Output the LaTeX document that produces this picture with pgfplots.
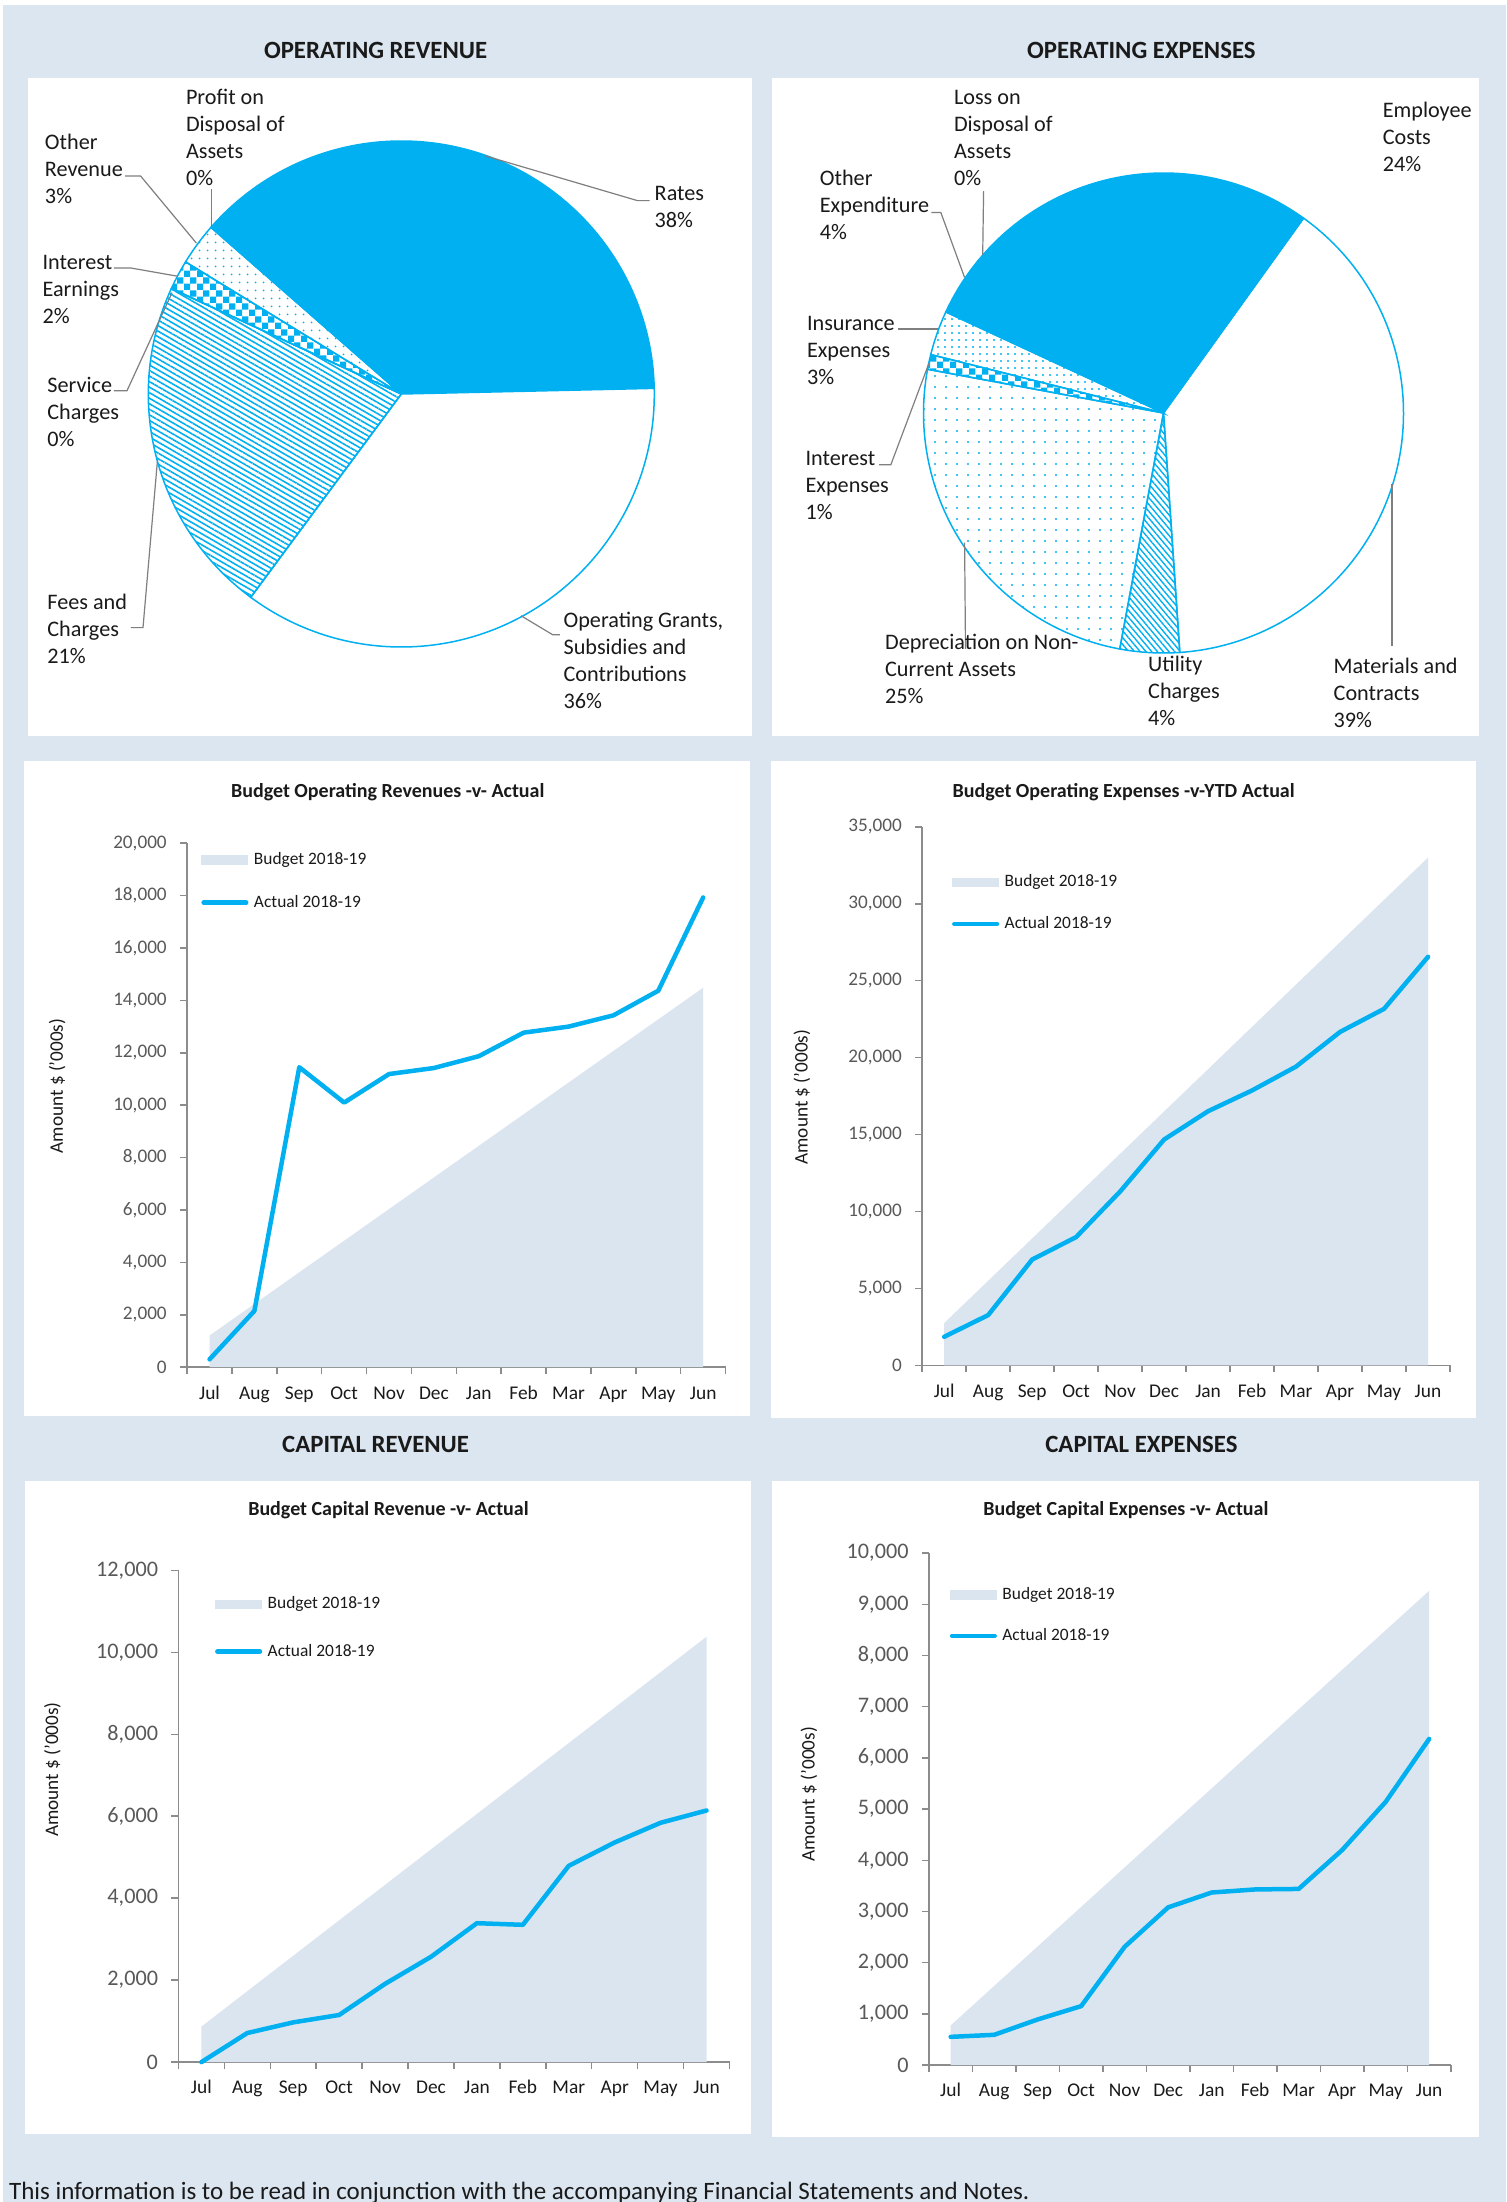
\documentclass[border=0pt]{standalone}
\usepackage{fontspec}
\setmainfont{Carlito}
\usepackage{pgfplots}
\usepackage{pgfplotstable}
\pgfplotsset{compat=1.18}
\usetikzlibrary{patterns.meta}

\definecolor{bgc}{HTML}{DCE6F1}
\definecolor{budg}{HTML}{DBE5F0}
\definecolor{xblue}{HTML}{00B0F0}
\definecolor{axgray}{HTML}{8C8C8C}
\definecolor{lead}{HTML}{7F7F7F}
\definecolor{tickc}{HTML}{595959}
\definecolor{txt}{HTML}{1A1A1A}

\pgfdeclarepatternformonly{checker}{\pgfqpoint{0pt}{0pt}}{\pgfqpoint{6.6pt}{6.6pt}}{\pgfqpoint{6.6pt}{6.6pt}}{%
  \pgfpathrectangle{\pgfqpoint{0pt}{0pt}}{\pgfqpoint{3.3pt}{3.3pt}}%
  \pgfpathrectangle{\pgfqpoint{3.3pt}{3.3pt}}{\pgfqpoint{3.3pt}{3.3pt}}%
  \pgfusepath{fill}}

% #1 start angle, #2 cumulative percent, #3 percent, #4 radius, #5 style
\newcommand\pieslice[5]{%
  \pgfmathsetmacro\psa{#1-3.6*(#2)}%
  \pgfmathsetmacro\pea{#1-3.6*(#2+#3)}%
  \edef\pietmp{\noexpand\filldraw[line width=0.75pt,\unexpanded{#5}] (axis cs:0,0) -- (axis cs:{cos(\psa)},{sin(\psa)})
     arc[start angle=\psa, end angle=\pea, radius=#4] -- cycle;}%
  \pietmp}

\pgfplotstableread{
m b a
0 1207 300
1 2414 2150
2 3621 11450
3 4828 10100
4 6035 11190
5 7242 11420
6 8449 11870
7 9656 12770
8 10863 13000
9 12070 13430
10 13277 14370
11 14484 17930
}\opr
\pgfplotstableread{
m b a
0 2750 1860
1 5500 3270
2 8250 6880
3 11000 8340
4 13750 11300
5 16500 14680
6 19250 16520
7 22000 17870
8 24750 19420
9 27500 21670
10 30250 23170
11 33000 26550
}\opx
\pgfplotstableread{
m b a
0 865 0
1 1730 710
2 2595 970
3 3460 1150
4 4325 1910
5 5190 2570
6 6055 3390
7 6920 3350
8 7785 4790
9 8650 5360
10 9515 5840
11 10380 6140
}\cpr
\pgfplotstableread{
m b a
0 772 550
1 1544 590
2 2316 890
3 3088 1150
4 3860 2310
5 4632 3080
6 5404 3370
7 6176 3430
8 6948 3440
9 7720 4200
10 8492 5140
11 9264 6370
}\cpx

\pgfplotsset{
  pie/.style={hide axis, clip=false, anchor=center, xmin=-1, xmax=1, ymin=-1, ymax=1},
  lc/.style={
    scale only axis, anchor=south west, clip=false,
    xmin=-0.5, xmax=11.5, ymin=0,
    axis x line*=bottom, axis y line*=left,
    axis line style={draw=axgray, line width=0.75pt},
    xtick={0,...,11},
    xticklabels={Jul,Aug,Sep,Oct,Nov,Dec,Jan,Feb,Mar,Apr,May,Jun},
    minor xtick={-0.5,0.5,...,11.5},
    major x tick style={draw=none},
    minor x tick style={draw=axgray, line width=0.75pt},
    ytick style={draw=axgray, line width=0.75pt},
    tick align=outside,
    major tick length=3.5pt, minor tick length=3.5pt,
    scaled y ticks=false,
    /pgf/number format/assume math mode=true,
    yticklabel style={/pgf/number format/fixed, /pgf/number format/1000 sep={,}, anchor=east, inner sep=0pt, xshift=-6.5pt, text=tickc},
    xticklabel style={anchor=base, yshift=-12.4pt, text=txt, font=\fontsize{9.7}{11}\selectfont},
    ylabel={Amount \$ ('000s)},
    ylabel style={anchor=center, font=\fontsize{9.6}{11}\selectfont, text=txt},
    legend cell align=left,
    legend style={draw=none, fill=none, inner sep=0pt, anchor=west,
      font=\fontsize{8.7}{10}\selectfont,
      nodes={inner sep=0pt, text height=6.5pt, text depth=2pt, text=txt},
      /tikz/every odd column/.append style={column sep=2.75pt}},
  },
  budgetarea/.style={fill=budg, draw=none,
    legend image code/.code={\fill[budg] (0pt,-2.4pt) rectangle (23.5pt,2.4pt);}},
  actualline/.style={draw=xblue, line width=2.25pt, line join=round, line cap=round, mark=none,
    legend image code/.code={\draw[xblue, line width=2.25pt, line cap=round] (1.1pt,0pt) -- (22.4pt,0pt);}},
}

\tikzset{
  plabel/.style={anchor=west, align=left, inner sep=0pt, font=\fontsize{11.1}{13.5}\selectfont, text=txt},
  ctitle/.style={inner sep=0pt, font=\bfseries\fontsize{10}{11}\selectfont, text=txt},
  shead/.style={inner sep=0pt, font=\bfseries\fontsize{12.4}{14}\selectfont, text=txt},
  ld/.style={draw=lead, line width=0.6pt},
}

\begin{document}
\begin{tikzpicture}[x=0.5pt, y=-0.5pt]
\useasboundingbox (0,0) rectangle (1506,2202);
\fill[white] (0,0) rectangle (1506,2202);
\fill[bgc] (3,5) rectangle (1506,2202);
% white panels
\fill[white] (27.6,77.9) rectangle (752,736.2);
\fill[white] (771.9,77.9) rectangle (1478.5,736.2);
\fill[white] (24.2,760.8) rectangle (750,1415.7);
\fill[white] (770.5,760.8) rectangle (1476,1417.9);
\fill[white] (25.2,1480.7) rectangle (751.3,2134);
\fill[white] (771.9,1480.7) rectangle (1478.5,2136.5);

% anchor points for the axes
\coordinate (P1) at (401.3,394);
\coordinate (P2) at (1163.5,413);
\coordinate (A1) at (187.1,1367.2);
\coordinate (A2) at (922.2,1365.4);
\coordinate (A3) at (178.4,2062.1);
\coordinate (A4) at (928.9,2065);

% section headers
\node[shead] at (375.6,50.5) {OPERATING REVENUE};
\node[shead] at (1141.4,50.5) {OPERATING EXPENSES};
\node[shead] at (375.6,1444.8) {CAPITAL REVENUE};
\node[shead] at (1141.4,1444.8) {CAPITAL EXPENSES};

% ---------- Operating revenue pie (percent shares) ----------
\begin{axis}[pie, at={(P1)}, x=126.5pt, y=126.5pt]
\pieslice{138.8}{0}{38.2}{126.5pt}{fill=xblue, draw=xblue}   % Rates
\pieslice{138.8}{38.2}{35.5}{126.5pt}{fill=white, draw=xblue}  % Operating grants
\pieslice{138.8}{73.7}{21.7}{126.5pt}{pattern={Lines[angle=-30,distance=2.4pt,line width=0.8pt]}, pattern color=xblue, draw=xblue} % Fees
\pieslice{138.8}{95.4}{0}{126.5pt}{fill=white, draw=xblue}   % Service charges
\pieslice{138.8}{95.4}{1.9}{126.5pt}{pattern=checker, pattern color=xblue, draw=xblue} % Interest
\pieslice{138.8}{97.3}{2.7}{126.5pt}{pattern={Dots[distance=4pt,radius=0.55pt]}, pattern color=xblue, draw=xblue} % Other
\end{axis}
\draw[ld] (649.5,200.6) -- (637.4,200.6) -- (484.7,155.7);
\draw[ld] (559.8,634.7) -- (552.6,634.7) -- (521.1,615.8);
\draw[ld] (130.9,627.6) -- (143,627.6) -- (157.5,460.1);
\draw[ld] (113.9,390.7) -- (127,390.7) -- (172.1,292.6);
\draw[ld] (113.9,268) -- (130.9,268) -- (176.9,276.1);
\draw[ld] (125,176) -- (140.6,176) -- (196.3,243);
\draw[ld] (211.8,188.8) -- (211.8,228.9);
\node[plabel] at (185.6,137.55) {Profit on\\Disposal of\\Assets\\0\%};
\node[plabel] at (44.6,168.7) {Other\\Revenue\\3\%};
\node[plabel] at (42.2,289.95) {Interest\\Earnings\\2\%};
\node[plabel] at (47,411.75) {Service\\Charges\\0\%};
\node[plabel] at (47,628.85) {Fees and\\Charges\\21\%};
\node[plabel] at (654.3,207.15) {Rates\\38\%};
\node[plabel] at (563.2,659.95) {Operating Grants,\\Subsidies and\\Contributions\\36\%};

% ---------- Operating expenses pie (percent shares) ----------
\begin{axis}[pie, at={(P2)}, x=120pt, y=120pt]
\pieslice{54.3}{0}{39}{120pt}{fill=white, draw=xblue}  % Materials
\pieslice{54.3}{39}{4}{120pt}{pattern={Lines[angle=-50,distance=2.2pt,line width=0.7pt]}, pattern color=xblue, draw=xblue} % Utility
\pieslice{54.3}{43}{25}{120pt}{pattern={Dots[distance=5.5pt,radius=0.6pt]}, pattern color=xblue, draw=xblue} % Depreciation
\pieslice{54.3}{68}{1}{120pt}{pattern=checker, pattern color=xblue, draw=xblue} % Interest
\pieslice{54.3}{69}{3}{120pt}{pattern={Dots[distance=3.5pt,radius=0.55pt]}, pattern color=xblue, draw=xblue} % Insurance
\pieslice{54.3}{72}{4}{120pt}{fill=xblue, draw=xblue}  % Other
\pieslice{54.3}{76}{0}{120pt}{fill=xblue, draw=xblue}  % Loss
\pieslice{54.3}{76}{24}{120pt}{fill=xblue, draw=xblue} % Employee
\end{axis}
\draw[ld] (983.6,191.1) -- (982.7,254.8);
\draw[ld] (931.3,212.4) -- (940.8,212.4) -- (964.6,277.5);
\draw[ld] (898,328.9) -- (938.4,328.9);
\draw[ld] (879,464.8) -- (890.8,464.8) -- (928.9,363.4);
\draw[ld] (965.5,648.9) -- (964.6,542.7);
\draw[ld] (1391.9,645.6) -- (1391.9,483.7);
\node[plabel] at (953.6,137.55) {Loss on\\Disposal of\\Assets\\0\%};
\node[plabel] at (1382.4,136.6) {Employee\\Costs\\24\%};
\node[plabel] at (819.5,205.05) {Other\\Expenditure\\4\%};
\node[plabel] at (806.6,350.4) {Insurance\\Expenses\\3\%};
\node[plabel] at (805.2,485.1) {Interest\\Expenses\\1\%};
\node[plabel] at (884.7,669.35) {Depreciation on Non-\\Current Assets\\25\%};
\node[plabel] at (1147.8,690.65) {Utility\\Charges\\4\%};
\node[plabel] at (1333.3,692.5) {Materials and\\Contracts\\39\%};

% ---------- Chart titles ----------
\node[ctitle] at (387.8,792) {Budget Operating Revenues -v- Actual};
\node[ctitle] at (1123.7,792) {Budget Operating Expenses -v-YTD Actual};
\node[ctitle] at (388.5,1510.2) {Budget Capital Revenue -v- Actual};
\node[ctitle] at (1125.9,1510.2) {Budget Capital Expenses -v- Actual};

% ---------- Operating revenues ----------
\begin{axis}[lc, at={(A1)}, width=269.25pt, height=262pt,
  ymax=20000, ytick={0,2000,...,20000},
  yticklabel style={font=\fontsize{9.6}{11}\selectfont},
  ylabel style={at={(axis description cs:-0.2414,0.5366)}},
  legend style={at={(axis description cs:0.0258,0.9275)}, row sep=13pt}]
\addplot[budgetarea] table[x=m, y=b] {\opr} \closedcycle;
\addlegendentry{Budget 2018-19}
\addplot[actualline] table[x=m, y=a] {\opr};
\addlegendentry{Actual 2018-19}
\end{axis}

% ---------- Operating expenses ----------
\begin{axis}[lc, at={(A2)}, width=263.9pt, height=269.3pt,
  ymax=35000, ytick={0,5000,...,35000},
  yticklabel style={font=\fontsize{9.6}{11}\selectfont},
  ylabel style={at={(axis description cs:-0.2279,0.498)}},
  legend style={at={(axis description cs:0.0559,0.8583)}, row sep=12.3pt}]
\addplot[budgetarea] table[x=m, y=b] {\opx} \closedcycle;
\addlegendentry{Budget 2018-19}
\addplot[actualline] table[x=m, y=a] {\opx};
\addlegendentry{Actual 2018-19}
\end{axis}

% ---------- Capital revenue ----------
\begin{axis}[lc, at={(A3)}, width=275.55pt, height=245.9pt,
  ymax=12000, ytick={0,2000,...,12000},
  yticklabel style={font=\fontsize{11.1}{13}\selectfont},
  ylabel style={at={(axis description cs:-0.2286,0.5946)}},
  legend style={at={(axis description cs:0.0659,0.8829)}, row sep=15.1pt}]
\addplot[budgetarea] table[x=m, y=b] {\cpr} \closedcycle;
\addlegendentry{Budget 2018-19}
\addplot[actualline] table[x=m, y=a] {\cpr};
\addlegendentry{Actual 2018-19}
\end{axis}

% ---------- Capital expenses ----------
\begin{axis}[lc, at={(A4)}, width=261pt, height=255.95pt,
  ymax=10000, ytick={0,1000,...,10000},
  yticklabel style={font=\fontsize{11.1}{13}\selectfont},
  ylabel style={at={(axis description cs:-0.2299,0.5287)}},
  legend style={at={(axis description cs:0.0393,0.8784)}, row sep=11.95pt}]
\addplot[budgetarea] table[x=m, y=b] {\cpx} \closedcycle;
\addlegendentry{Budget 2018-19}
\addplot[actualline] table[x=m, y=a] {\cpx};
\addlegendentry{Actual 2018-19}
\end{axis}

% footer
\node[anchor=base west, inner sep=0pt, font=\fontsize{12.5}{14}\selectfont, text=txt] at (8.7,2199)
  {This information is to be read in conjunction with the accompanying Financial Statements and Notes.};
\end{tikzpicture}
\end{document}
